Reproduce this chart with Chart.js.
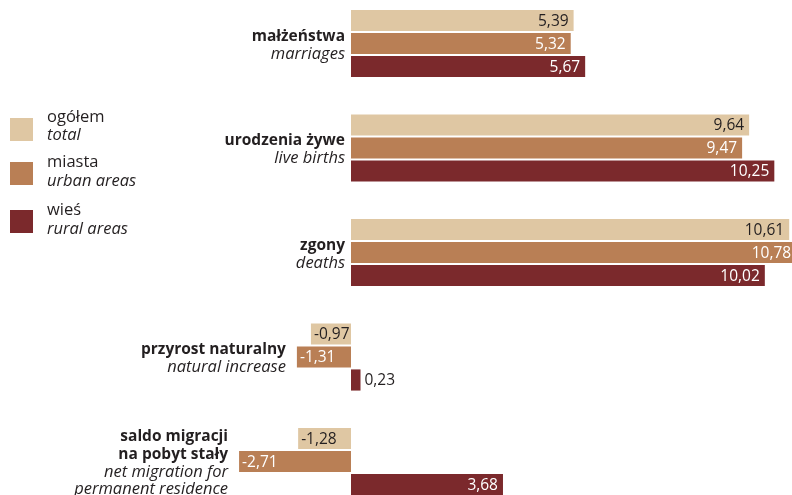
<!DOCTYPE html>
<html>
<head>
<meta charset="utf-8">
<script src="https://cdn.jsdelivr.net/npm/chart.js@4"></script>
<style>
  html, body { margin: 0; padding: 0; background: #ffffff; overflow: hidden; }
  #wrap { width: 792px; height: 495px; position: relative; }
</style>
</head>
<body>
<div id="wrap"><canvas id="c"></canvas></div>
<script>
// ---- data ----
const categoriesPL = [["małżeństwa"], ["urodzenia żywe"], ["zgony"], ["przyrost naturalny"], ["saldo migracji", "na pobyt stały"]];
const categoriesEN = [["marriages"], ["live births"], ["deaths"], ["natural increase"], ["net migration for", "permanent residence"]];
const seriesNamesPL = ["ogółem", "miasta", "wieś"];
const seriesNamesEN = ["total", "urban areas", "rural areas"];
const totalValues = [5.39, 9.64, 10.61, -0.97, -1.28];
const urbanValues = [5.32, 9.47, 10.78, -1.31, -2.71];
const ruralValues = [5.67, 10.25, 10.02, 0.23, 3.68];

const colors = ["#dfc7a3", "#b97f55", "#7b292c"];
const labelColors = ["#231f20", "#ffffff", "#ffffff"];
const textColor = "#231f20";
const FONT = "'Open Sans', sans-serif";

const labelsPlugin = {
  id: 'customLabels',
  afterDatasetsDraw(chart) {
    const ctx = chart.ctx;
    ctx.save();
    ctx.textBaseline = 'middle';
    // value labels
    ctx.font = "15.5px " + FONT;
    chart.data.datasets.forEach((ds, di) => {
      const meta = chart.getDatasetMeta(di);
      meta.data.forEach((bar, i) => {
        const v = ds.data[i];
        const txt = v.toFixed(2).replace('.', ',');
        const w = ctx.measureText(txt).width;
        const left = Math.min(bar.x, bar.base), right = Math.max(bar.x, bar.base);
        if (v >= 0) {
          if (right - left > w + 10) {
            ctx.fillStyle = labelColors[di];
            ctx.textAlign = 'right';
            ctx.fillText(txt, right - 5, bar.y + 1);
          } else {
            ctx.fillStyle = textColor;
            ctx.textAlign = 'left';
            ctx.fillText(txt, right + 4, bar.y + 1);
          }
        } else {
          ctx.fillStyle = labelColors[di];
          ctx.textAlign = 'left';
          ctx.fillText(txt, left + 3, bar.y + 1);
        }
      });
    });
    // category labels
    const xs = chart.scales.x, ys = chart.scales.y;
    const lh = 17.8;
    categoriesPL.forEach((pl, i) => {
      const en = categoriesEN[i];
      const minV = Math.min(0, totalValues[i], urbanValues[i], ruralValues[i]);
      const xr = xs.getPixelForValue(minV) - (minV < 0 ? 11 : 6);
      const cy = ys.getPixelForValue(i) + 1.5;
      const lines = pl.map(t => [t, 'bold']).concat(en.map(t => [t, 'italic']));
      const n = lines.length;
      ctx.textAlign = 'right';
      ctx.fillStyle = textColor;
      lines.forEach((ln, k) => {
        ctx.font = (ln[1] === 'bold' ? "bold 15.5px " : "italic 16.5px ") + FONT;
        ctx.fillText(ln[0], xr, cy + (k - (n - 1) / 2) * lh);
      });
    });
    // legend
    const legTop = [118, 162, 210];
    seriesNamesPL.forEach((name, i) => {
      ctx.fillStyle = colors[i];
      ctx.fillRect(10, legTop[i], 23, 23);
      ctx.fillStyle = textColor;
      ctx.textAlign = 'left';
      ctx.font = "16.5px " + FONT;
      ctx.fillText(name, 47, legTop[i] + (i === 0 ? -1 : 0));
      ctx.font = "italic 16.5px " + FONT;
      ctx.fillText(seriesNamesEN[i], 47, legTop[i] + (i === 0 ? 17 : 19));
    });
    ctx.restore();
  }
};

const ZERO_PX = 351, PX_PER_UNIT = 41.3, W = 792;

new Chart(document.getElementById('c'), {
  type: 'bar',
  data: {
    labels: categoriesPL.map(a => a.join(' ')),
    datasets: [
      { label: seriesNamesPL[0], data: totalValues, backgroundColor: colors[0] },
      { label: seriesNamesPL[1], data: urbanValues, backgroundColor: colors[1] },
      { label: seriesNamesPL[2], data: ruralValues, backgroundColor: colors[2] }
    ].map(d => Object.assign(d, { categoryPercentage: 0.66, barPercentage: 0.92, clip: false, borderWidth: 0 }))
  },
  options: {
    indexAxis: 'y',
    responsive: true,
    maintainAspectRatio: false,
    animation: false,
    layout: { padding: { top: 43.5, bottom: 33.5, left: 0, right: 0 } },
    scales: {
      x: { type: 'linear', display: false, min: -ZERO_PX / PX_PER_UNIT, max: (W - ZERO_PX) / PX_PER_UNIT },
      y: { type: 'category', display: false, offset: false }
    },
    plugins: { legend: { display: false }, tooltip: { enabled: false } }
  },
  plugins: [labelsPlugin]
});
</script>
</body>
</html>
